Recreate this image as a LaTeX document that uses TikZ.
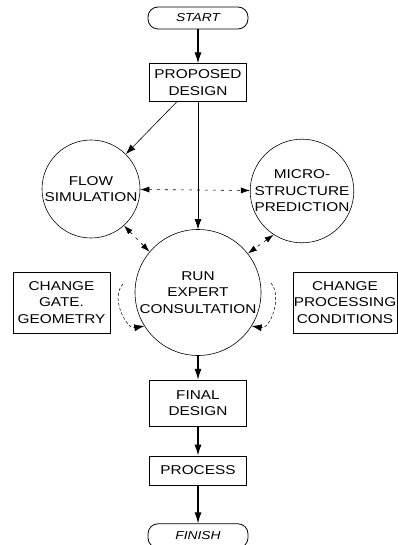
\documentclass[tikz,border=0pt]{standalone}
\usepackage{fontspec}
\setmainfont{Liberation Sans}
\newfontfamily\chartfont{Liberation Sans}[FakeStretch=1.2]
\newcommand\blkfont{\chartfont\fontsize{12.8}{16.5}\selectfont}
\newcommand\termfont{\chartfont\itshape\fontsize{11.5}{12}\selectfont}
\usetikzlibrary{arrows.meta,positioning}

\begin{document}
\begin{tikzpicture}[x=1pt,y=-1pt,
      every node/.style={inner sep=0pt,align=center},
      term/.style={draw,line width=0.8pt,rounded corners=10pt,minimum width=100pt,
                   minimum height=22pt,font=\termfont},
      blk/.style={draw,line width=0.8pt,minimum width=97pt,font=\blkfont},
      bub/.style={draw,circle,line width=0.6pt,font=\blkfont},
      arr/.style={-{Latex[length=11pt,width=7pt]},line width=1.1pt},
      farr/.style={-{Latex[length=10pt,width=7pt]},line width=0.6pt},
      darr/.style={{Latex[length=9pt,width=6pt]}-{Latex[length=9pt,width=6pt]},
                   line width=0.6pt,dash pattern=on 3pt off 5pt},
      carr/.style={-{Latex[length=10pt,width=7pt]},line width=0.5pt,dash pattern=on 3pt off 2pt}]
    \useasboundingbox (0,0) rectangle (397,545);
    % main column
    \node[term] (start) at (198,18) {START};
    \node[blk,minimum height=38pt,below=34pt of start] (des) {PROPOSED\\DESIGN};
    \node[bub,minimum size=126pt,below=127pt of des] (run) {RUN\\EXPERT\\CONSULTATION};
    \node[blk,minimum height=46pt,below=24pt of run] (fin) {FINAL\\DESIGN};
    \node[blk,minimum height=29pt,below=29pt of fin] (proc) {PROCESS};
    \node[term,minimum height=24pt,below=38pt of proc] (finish) {FINISH};
    % side nodes
    \node[bub,minimum size=98pt] (flow) at (91,189) {FLOW\\SIMULATION};
    \node[bub,minimum size=100pt] (micro) at (302,191) {MICRO-\\STRUCTURE\\PREDICTION};
    \node[blk,minimum height=61pt] (gate) at (61.5,302.5) {CHANGE\\GATE.\\GEOMETRY};
    \node[blk,minimum width=104pt,minimum height=61pt] (cond) at (345,302.5) {CHANGE\\PROCESSING\\CONDITIONS};
    \coordinate (gl) at (123,284);
    \coordinate (gr) at (271,283);
    % connectors
    \draw[arr] (start) -- (des);
    \draw[farr] (des.222) -- (flow.45);
    \draw[farr,line width=0.7pt] (des) -- (run);
    \draw[darr] (flow) -- (micro);
    \draw[darr] (flow.-48) -- (run.140);
    \draw[darr] (micro.237) -- (run.38);
    \draw[carr] (gl) to[out=225,in=190] (run.212);
    \draw[carr] (gr) to[out=-50,in=-10] (run.328);
    \draw[arr] (run) -- (fin);
    \draw[arr] (fin) -- (proc);
    \draw[arr] (proc) -- (finish);
  \end{tikzpicture}
\end{document}
